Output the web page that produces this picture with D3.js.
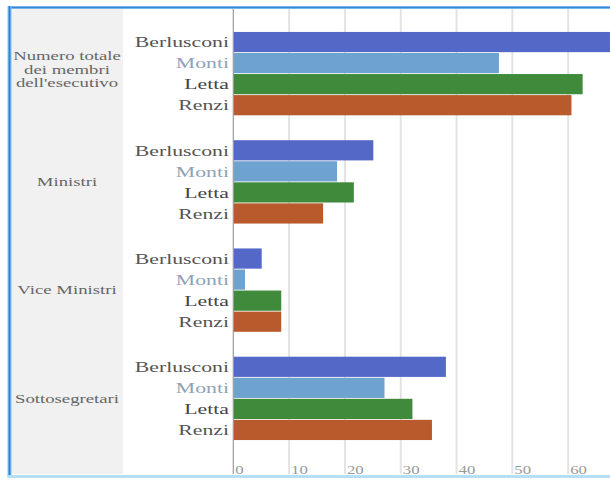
<!DOCTYPE html>
<html>
<head>
<meta charset="utf-8">
<script src="https://cdn.jsdelivr.net/npm/d3@7"></script>
<style>
  html, body { margin: 0; padding: 0; background: #ffffff; }
  svg { display: block; }
  text { font-family: "Liberation Serif", "DejaVu Serif", "Noto Serif", "Noto Serif CJK SC", "FreeSerif", "Times New Roman", Times, serif; }
</style>
</head>
<body>
<svg id="chart" width="610" height="480"></svg>
<script>
// ---- data ----
const categories = [
  ["Numero totale", "dei membri", "dell'esecutivo"],
  ["Ministri"],
  ["Vice Ministri"],
  ["Sottosegretari"]
];
const governments = ["Berlusconi", "Monti", "Letta", "Renzi"];
const berlusconi = [68, 25, 5, 38];
const monti      = [47.5, 18.5, 2, 27];
const letta      = [62.5, 21.5, 8.5, 32];
const renzi      = [60.5, 16, 8.5, 35.5];
const tickValues = [0, 10, 20, 30, 40, 50, 60];

const seriesValues = [berlusconi, monti, letta, renzi];
const colors = ["#5468c8", "#6ea2cf", "#3f8a3b", "#b85a2c"];
const labelColors = ["#555555", "#8fa3b8", "#444444", "#555555"];

const svg = d3.select("#chart");
const W = 610, H = 480;
const plotTop = 9, plotBottom = 474;

// scales
const x = d3.scaleLinear().domain([0, 70]).range([233.3, 624]);
const y0 = d3.scaleBand().domain(d3.range(categories.length))
  .range([19.5, 452.5]).paddingInner(0.23).paddingOuter(0.115);
const y1 = d3.scaleBand().domain(governments)
  .range([0, y0.bandwidth()]).paddingInner(0.04);

// left gray panel
svg.append("rect").attr("x", 11).attr("y", plotTop)
  .attr("width", 112).attr("height", plotBottom - plotTop)
  .attr("fill", "#f1f1f1");

// gridlines
svg.append("g").selectAll("line").data(tickValues.slice(1)).join("line")
  .attr("x1", d => x(d)).attr("x2", d => x(d))
  .attr("y1", plotTop).attr("y2", plotBottom)
  .attr("stroke", "#e3e3e3").attr("stroke-width", 2);

// axis line
svg.append("line").attr("x1", x(0)).attr("x2", x(0))
  .attr("y1", plotTop).attr("y2", plotBottom)
  .attr("stroke", "#9a9a9a").attr("stroke-width", 1.2);

// bars
const groups = svg.append("g").selectAll("g").data(categories).join("g")
  .attr("transform", (d, i) => `translate(0,${y0(i)})`);

groups.each(function(cat, ci) {
  const g = d3.select(this);
  governments.forEach((gov, si) => {
    const v = seriesValues[si][ci];
    g.append("rect")
      .attr("x", x(0) + 0.5)
      .attr("y", y1(gov))
      .attr("width", x(v) - x(0))
      .attr("height", y1.bandwidth())
      .attr("fill", colors[si]);
    const ty = y1(gov) + y1.bandwidth() / 2;
    g.append("text")
      .attr("transform", `translate(229,${ty}) scale(1.45,1)`)
      .attr("text-anchor", "end")
      .attr("dominant-baseline", "central")
      .attr("font-size", 15)
      .attr("fill", labelColors[si])
      .text(gov);
  });
  // category label
  const cy = y0.bandwidth() / 2;
  const lh = 13.5;
  cat.forEach((line, li) => {
    const ly = cy + (li - (cat.length - 1) / 2) * lh - (cat.length > 1 ? 4 : 0);
    g.append("text")
      .attr("transform", `translate(67,${ly}) scale(1.5,1)`)
      .attr("text-anchor", "middle")
      .attr("dominant-baseline", "central")
      .attr("font-size", 12.5)
      .attr("fill", "#666666")
      .text(line);
  });
});

// tick labels
svg.append("g").selectAll("text").data(tickValues).join("text")
  .attr("transform", d => `translate(${x(d) + 2},470) scale(1.4,1)`)
  .attr("text-anchor", "start")
  .attr("dominant-baseline", "central")
  .attr("font-size", 12)
  .attr("fill", "#9a9a9a")
  .text(d => d);

// frame
svg.append("line").attr("x1", 8).attr("x2", W).attr("y1", 7.5).attr("y2", 7.5)
  .attr("stroke", "#8cc4f0").attr("stroke-width", 3);
svg.append("line").attr("x1", 8).attr("x2", W).attr("y1", 7.5).attr("y2", 7.5)
  .attr("stroke", "#3a86d6").attr("stroke-width", 1.3);
svg.append("line").attr("x1", 9.5).attr("x2", 9.5).attr("y1", 6).attr("y2", 478)
  .attr("stroke", "#8cc4f0").attr("stroke-width", 4);
svg.append("line").attr("x1", 9.5).attr("x2", 9.5).attr("y1", 6).attr("y2", 478)
  .attr("stroke", "#2f7fd2").attr("stroke-width", 1.8);
svg.append("line").attr("x1", 8).attr("x2", W).attr("y1", 476.5).attr("y2", 476.5)
  .attr("stroke", "#b4e0f6").attr("stroke-width", 3);
</script>
</body>
</html>
